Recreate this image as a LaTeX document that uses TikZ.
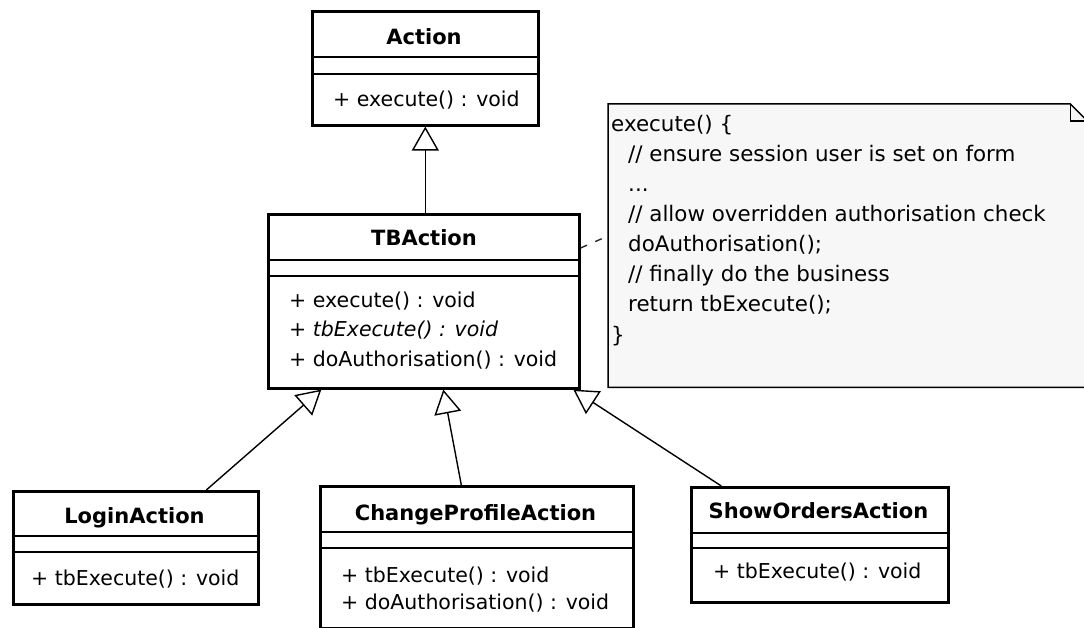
\documentclass[tikz,border=0pt]{standalone}
\usepackage{fontspec}
\setmainfont{DejaVu Sans}
\usetikzlibrary{arrows.meta,calc}
\tikzset{
  cls/.style={draw, line width=2.6pt, fill=white, anchor=north west, inner sep=0pt},
  div/.style={line width=1.2pt},
  ttl/.style={font=\fontsize{21}{25}\selectfont\bfseries, anchor=base, inner sep=0pt},
  mem/.style={font=\fontsize{20.5}{24}\selectfont, anchor=base west, inner sep=0pt},
  notetxt/.style={font=\fontsize{21.4}{25}\selectfont, anchor=base west, inner sep=0pt},
  gen/.style={line width=1.4pt, -{Triangle[length=24pt,width=27pt,fill=white,line width=1.4pt]}},
  notelink/.style={line width=1.4pt, dash pattern=on 7pt off 9pt, black!85},
  noteshape/.style={line width=1.5pt, fill=black!3}
}
\begin{document}
\begin{tikzpicture}[x=1pt,y=-1pt]
\useasboundingbox (0,0) rectangle (1084,628);

% Action
\node[cls, minimum width=226pt, minimum height=114pt] (action) at (311,10) {};
\draw[div] ([yshift=-47pt]action.north west) -- ([yshift=-47pt]action.north east);
\draw[div] ([yshift=-64pt]action.north west) -- ([yshift=-64pt]action.north east);
\node[ttl] (actionT) at (424,45) {Action};
\node[mem] (actionM1) at (333,107) {+ execute() : void};

% TBAction
\node[cls, minimum width=311pt, minimum height=174pt] (tb) at (267,213) {};
\draw[div] ([yshift=-47pt]tb.north west) -- ([yshift=-47pt]tb.north east);
\draw[div] ([yshift=-63pt]tb.north west) -- ([yshift=-63pt]tb.north east);
\node[ttl] (tbT) at (424,246) {TBAction};
\node[mem] (tbM1) at (289,307) {+ execute() : void};
\node[mem] (tbM2) at (289,336) {+ \textit{tbExecute() : void}};
\node[mem] (tbM3) at (289,366) {+ doAuthorisation() : void};

% LoginAction
\node[cls, minimum width=245pt, minimum height=113pt] (login) at (12,490) {};
\draw[div] ([yshift=-46pt]login.north west) -- ([yshift=-46pt]login.north east);
\draw[div] ([yshift=-62pt]login.north west) -- ([yshift=-62pt]login.north east);
\node[ttl] (loginT) at (134.5,523) {LoginAction};
\node[mem] (loginM1) at (31,585) {+ tbExecute() : void};

% ChangeProfileAction
\node[cls, minimum width=313pt, minimum height=142pt] (change) at (319,485) {};
\draw[div] ([yshift=-47pt]change.north west) -- ([yshift=-47pt]change.north east);
\draw[div] ([yshift=-63pt]change.north west) -- ([yshift=-63pt]change.north east);
\node[ttl] (changeT) at (475.5,520) {ChangeProfileAction};
\node[mem] (changeM1) at (341,582) {+ tbExecute() : void};
\node[mem] (changeM2) at (341,609) {+ doAuthorisation() : void};

% ShowOrdersAction
\node[cls, minimum width=257pt, minimum height=115pt] (show) at (690,486) {};
\draw[div] ([yshift=-47pt]show.north west) -- ([yshift=-47pt]show.north east);
\draw[div] ([yshift=-62pt]show.north west) -- ([yshift=-62pt]show.north east);
\node[ttl] (showT) at (818.5,518) {ShowOrdersAction};
\node[mem] (showM1) at (713,578) {+ tbExecute() : void};

% Note
\node[anchor=north west, inner sep=0pt, minimum width=479pt, minimum height=283pt] (note) at (608,104) {};
\draw[noteshape] (note.south west) -- (note.north west) -- ([xshift=-17pt]note.north east)
  -- ([yshift=-17pt]note.north east) -- (note.south east) -- cycle;
\draw[line width=1.2pt] ([xshift=-17pt]note.north east) -- ([xshift=-17pt,yshift=-17pt]note.north east)
  -- ([yshift=-17pt]note.north east);
\node[notetxt] (n1) at (611,132) {execute() \{};
\node[notetxt] (n2) at (628,162) {// ensure session user is set on form};
\node[notetxt] (n3) at (628,192) {...};
\node[notetxt] (n4) at (628,222) {// allow overridden authorisation check};
\node[notetxt] (n5) at (628,252) {doAuthorisation();};
\node[notetxt] (n6) at (628,282) {// finally do the business};
\node[notetxt] (n7) at (628,312) {return tbExecute();};
\node[notetxt] (n8) at (611,342) {\}};

% Connectors
\draw[gen] (tb.north -| action.south) -- (action.south);
\draw[gen] ([xshift=70.5pt]login.north) -- ([xshift=-102.5pt]tb.south);
\draw[gen] ([xshift=-15.5pt]change.north) -- ([xshift=19.5pt]tb.south);
\draw[gen] ([xshift=-98.5pt]show.north) -- ([xshift=149.5pt]tb.south);
\draw[notelink] ([yshift=-35pt]tb.north east) -- ([yshift=-132pt]note.north west);
\end{tikzpicture}
\end{document}
